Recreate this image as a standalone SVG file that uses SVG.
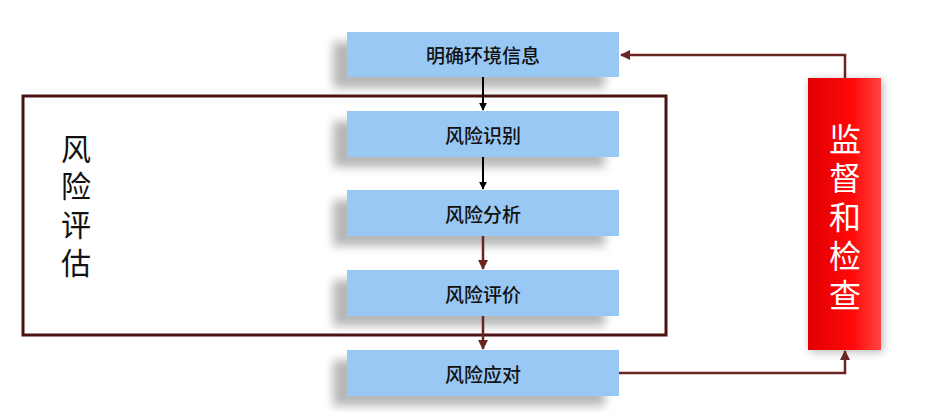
<svg xmlns="http://www.w3.org/2000/svg" width="928" height="412" viewBox="0 0 928 412">
<style>
.box{fill:#99c8f5}
.bt{font-family:"Noto Sans CJK SC",sans-serif;font-size:19px;font-weight:500;fill:#111;text-anchor:middle;dominant-baseline:central}
.rt{font-family:"Noto Sans CJK SC",sans-serif;font-size:32px;fill:#fff;text-anchor:middle}
.lt{font-family:"Noto Sans CJK SC",sans-serif;font-size:30px;fill:#111;text-anchor:middle}
.k{stroke:#000;stroke-width:2;fill:none}
.r{stroke:#6b2424;stroke-width:2.5;fill:none}
</style>
<defs>
<filter id="sh" x="-20%" y="-30%" width="140%" height="180%"><feGaussianBlur stdDeviation="5"/></filter>
<linearGradient id="rg" x1="0" x2="1"><stop offset="0" stop-color="#e00000"/><stop offset="0.6" stop-color="#ff0808"/><stop offset="1" stop-color="#ff4444"/></linearGradient>
<marker id="ak" viewBox="0 0 10 10" refX="9" refY="5" markerWidth="4" markerHeight="4" orient="auto"><path d="M0,0L10,5L0,10z" fill="#000"/></marker>
<marker id="ar" viewBox="0 0 10 10" refX="9" refY="5" markerWidth="4" markerHeight="4" orient="auto"><path d="M0,0L10,5L0,10z" fill="#6b2424"/></marker>
</defs>
<rect x="23" y="96" width="643" height="239" fill="none" stroke="#4a1212" stroke-width="3"/>
<g id="label"><text class="lt" x="76" y="160">风</text><text class="lt" x="76" y="197">险</text><text class="lt" x="76" y="236">评</text><text class="lt" x="76" y="274">估</text></g>
<g id="n1"><rect x="333" y="42" width="272" height="46" fill="#999" opacity="0.7" filter="url(#sh)"/><rect class="box" x="347" y="32" width="272" height="45"/><text class="bt" x="483" y="54">明确环境信息</text></g>
<g id="n2"><rect x="333" y="121" width="272" height="46" fill="#999" opacity="0.7" filter="url(#sh)"/><rect class="box" x="347" y="111" width="272" height="46"/><text class="bt" x="483" y="134">风险识别</text></g>
<g id="n3"><rect x="333" y="200" width="272" height="46" fill="#999" opacity="0.7" filter="url(#sh)"/><rect class="box" x="347" y="190" width="272" height="46"/><text class="bt" x="483" y="213">风险分析</text></g>
<g id="n4"><rect x="333" y="280" width="272" height="46" fill="#999" opacity="0.7" filter="url(#sh)"/><rect class="box" x="347" y="270" width="272" height="46"/><text class="bt" x="483" y="293">风险评价</text></g>
<g id="n5"><rect x="333" y="360" width="272" height="46" fill="#999" opacity="0.7" filter="url(#sh)"/><rect class="box" x="347" y="350" width="272" height="46"/><text class="bt" x="483" y="373">风险应对</text></g>
<g id="n6"><rect x="810" y="80" width="73" height="272" fill="#888" opacity="0.6" filter="url(#sh)"/><rect x="808" y="78" width="73" height="272" fill="url(#rg)"/>
<text class="rt" x="845" y="151">监</text><text class="rt" x="845" y="190">督</text><text class="rt" x="845" y="229">和</text><text class="rt" x="845" y="268">检</text><text class="rt" x="845" y="307">查</text></g>
<g id="connectors">
<line class="k" x1="483" y1="77" x2="483" y2="110" marker-end="url(#ak)"/>
<line class="k" x1="483" y1="157" x2="483" y2="189" marker-end="url(#ak)"/>
<line class="r" x1="483" y1="236" x2="483" y2="269" marker-end="url(#ar)"/>
<line class="r" x1="483" y1="316" x2="483" y2="349" marker-end="url(#ar)"/>
<polyline class="r" points="619,373 845,373 845,351" marker-end="url(#ar)"/>
<polyline class="r" points="845,78 845,55 621,55" marker-end="url(#ar)"/>
</g>
</svg>
